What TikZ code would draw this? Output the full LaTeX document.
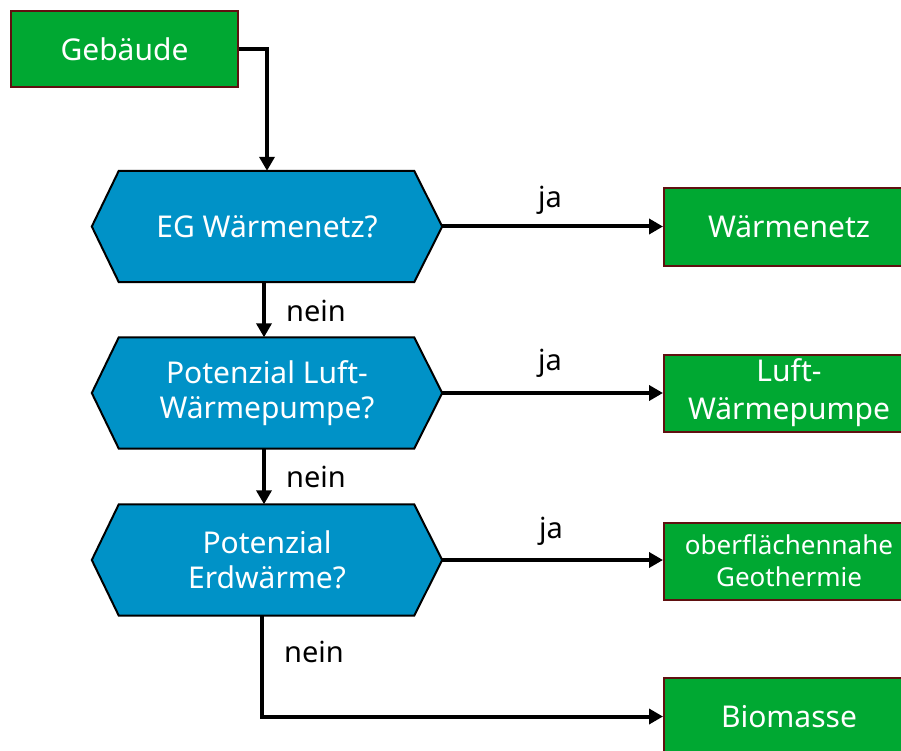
\documentclass[tikz,border=0pt]{standalone}
\usepackage{fontspec}
\setmainfont{Noto Sans}
\usetikzlibrary{arrows.meta,calc}
\definecolor{boxgreen}{RGB}{0,168,50}
\definecolor{boxborder}{RGB}{96,16,16}
\definecolor{hexblue}{RGB}{0,146,199}
\tikzset{
  result/.style={draw=boxborder,line width=2pt,fill=boxgreen,text=white,font=\fontsize{30}{38}\selectfont,align=center,inner sep=0pt},
  hexbox/.style={draw=none,inner sep=0pt,minimum width=350pt,minimum height=111pt,text=white,font=\fontsize{30}{35}\selectfont,align=center},
  hexshape/.style={draw=black,line width=2pt,line join=miter},
  flow/.style={line width=4pt,-{Triangle[length=14pt,width=15pt]}},
  lbl/.style={font=\fontsize{29}{30}\selectfont,text=black,inner sep=0pt}
}
\newcommand{\hexagonof}[1]{%
  \fill[hexblue] (#1.west) -- ($(#1.north west)+(27,0)$) -- ($(#1.north east)+(-28,0)$) -- (#1.east) -- ($(#1.south east)+(-28,0)$) -- ($(#1.south west)+(27,0)$) -- cycle;
  \draw[hexshape] (#1.west) -- ($(#1.north west)+(27,0)$) -- ($(#1.north east)+(-28,0)$) -- (#1.east) -- ($(#1.south east)+(-28,0)$) -- ($(#1.south west)+(27,0)$) -- cycle;}
\begin{document}
\begin{tikzpicture}[x=1pt,y=-1pt]
\useasboundingbox (0,0) rectangle (901,751);
\clip (0,0) rectangle (901,751);
\fill[white] (0,0) rectangle (901,751);
% start
\node[result,minimum width=227pt,minimum height=76pt] (geb) at (124.5,49) {Gebäude};
% questions
\node[hexbox] (q1) at (267,226.5) {};
\node[hexbox] (q2) at (267,393) {};
\node[hexbox] (q3) at (267,560) {};
\hexagonof{q1}
\hexagonof{q2}
\hexagonof{q3}
\node[hexbox] at (q1) {EG Wärmenetz?};
\node[hexbox] at (q2) {Potenzial Luft-\\Wärmepumpe?};
\node[hexbox] at (q3) {Potenzial\\Erdwärme?};
% results
\node[result,minimum width=250pt,minimum height=77pt] (r1) at (789,227) {Wärmenetz};
\node[result,minimum width=250pt,minimum height=77pt] (r2) at (789,393) {Luft-\\Wärmepumpe};
\node[result,minimum width=250pt,minimum height=77pt,font=\fontsize{26}{32}\selectfont] (r3) at (789,561) {oberflächennahe\\Geothermie};
\node[result,minimum width=250pt,minimum height=77pt] (r4) at (789,716.5) {Biomasse};
% connectors
\draw[flow] (geb.east) -| (q1.north);
\draw[flow] (q1.east) -- (q1.east -| r1.west);
\draw[flow] (q2.east) -- (q2.east -| r2.west);
\draw[flow] (q3.east) -- (q3.east -| r3.west);
\draw[flow] ($(q1.south)+(-3,0)$) -- ($(q2.north)+(-3,0)$);
\draw[flow] ($(q2.south)+(-3,0)$) -- ($(q3.north)+(-3,0)$);
\draw[flow] ($(q3.south)+(-5,0)$) |- (r4.west);
% labels
\node[lbl] (ja1) at (550,200) {ja};
\node[lbl] (ja2) at (550,363) {ja};
\node[lbl] (ja3) at (551,531) {ja};
\node[lbl] (n1) at (316,311) {nein};
\node[lbl] (n2) at (316,477) {nein};
\node[lbl] (n3) at (314,652) {nein};
\end{tikzpicture}
\end{document}
